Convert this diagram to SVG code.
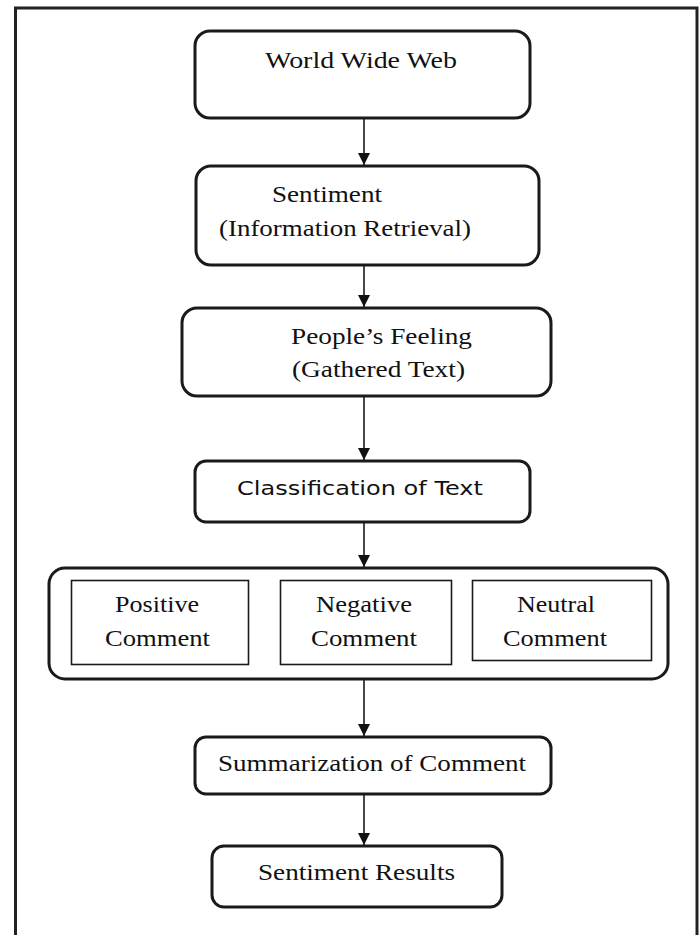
<svg xmlns="http://www.w3.org/2000/svg" width="700" height="935" viewBox="0 0 700 935">
<style>
.box{fill:#fff;stroke:#1a1a1a;stroke-width:3}
.inner{fill:#fff;stroke:#1a1a1a;stroke-width:1.6}
.t{font-family:"Liberation Serif","Times New Roman",serif;font-size:24px;fill:#111}
.s{font-family:"DejaVu Sans","Liberation Sans",sans-serif;font-size:20px;fill:#111}
.c{stroke:#1a1a1a;stroke-width:1.6;fill:none}
</style>
<defs>
<marker id="ah" viewBox="0 0 12 12" refX="12" refY="6" markerWidth="12" markerHeight="12" markerUnits="userSpaceOnUse" orient="auto">
<path d="M0,0 L12,6 L0,12 z" fill="#111"/>
</marker>
</defs>
<rect width="700" height="935" fill="#fff"/>
<path d="M15.5,940 V8 H697 V940" fill="none" stroke="#222" stroke-width="3"/>

<g id="connectors">
<line class="c" x1="364" y1="118" x2="364" y2="165" marker-end="url(#ah)"/>
<line class="c" x1="364" y1="265" x2="364" y2="307" marker-end="url(#ah)"/>
<line class="c" x1="364" y1="396" x2="364" y2="460" marker-end="url(#ah)"/>
<line class="c" x1="364" y1="522" x2="364" y2="567" marker-end="url(#ah)"/>
<line class="c" x1="364" y1="679" x2="364" y2="736" marker-end="url(#ah)"/>
<line class="c" x1="364" y1="794" x2="364" y2="845" marker-end="url(#ah)"/>
</g>

<g id="world-wide-web">
<rect class="box" x="195" y="31" width="335" height="87" rx="15"/>
<text class="t" x="265" y="68" textLength="192" lengthAdjust="spacingAndGlyphs">World Wide Web</text>
</g>

<g id="sentiment-ir">
<rect class="box" x="196" y="166" width="343" height="99" rx="15"/>
<text class="t" x="272" y="202" textLength="110" lengthAdjust="spacingAndGlyphs">Sentiment</text>
<text class="t" x="219" y="236" textLength="252" lengthAdjust="spacingAndGlyphs">(Information Retrieval)</text>
</g>

<g id="peoples-feeling">
<rect class="box" x="182" y="308" width="369" height="88" rx="15"/>
<text class="t" x="291" y="344" textLength="181" lengthAdjust="spacingAndGlyphs">People’s Feeling</text>
<text class="t" x="292" y="377" textLength="173" lengthAdjust="spacingAndGlyphs">(Gathered Text)</text>
</g>

<g id="classification">
<rect class="box" x="195" y="461" width="335" height="61" rx="11"/>
<text class="s" x="237" y="495" textLength="246" lengthAdjust="spacingAndGlyphs">Classification of Text</text>
</g>

<g id="comments">
<rect class="box" x="49" y="568" width="619" height="111" rx="16"/>
<g id="positive">
<rect class="inner" x="71.5" y="580.5" width="177" height="84"/>
<text class="t" x="115" y="612" textLength="84" lengthAdjust="spacingAndGlyphs">Positive</text>
<text class="t" x="105" y="646" textLength="105" lengthAdjust="spacingAndGlyphs">Comment</text>
</g>
<g id="negative">
<rect class="inner" x="280.5" y="580.5" width="171" height="84"/>
<text class="t" x="316" y="612" textLength="96" lengthAdjust="spacingAndGlyphs">Negative</text>
<text class="t" x="311" y="646" textLength="106" lengthAdjust="spacingAndGlyphs">Comment</text>
</g>
<g id="neutral">
<rect class="inner" x="472.5" y="580.5" width="179" height="80"/>
<text class="t" x="517" y="612" textLength="78" lengthAdjust="spacingAndGlyphs">Neutral</text>
<text class="t" x="503" y="646" textLength="104" lengthAdjust="spacingAndGlyphs">Comment</text>
</g>
</g>

<g id="summarization">
<rect class="box" x="195" y="737" width="356" height="57" rx="11"/>
<text class="t" x="218" y="771" textLength="308" lengthAdjust="spacingAndGlyphs">Summarization of Comment</text>
</g>

<g id="sentiment-results">
<rect class="box" x="212" y="846" width="290" height="61" rx="12"/>
<text class="t" x="258" y="880" textLength="197" lengthAdjust="spacingAndGlyphs">Sentiment Results</text>
</g>
</svg>
